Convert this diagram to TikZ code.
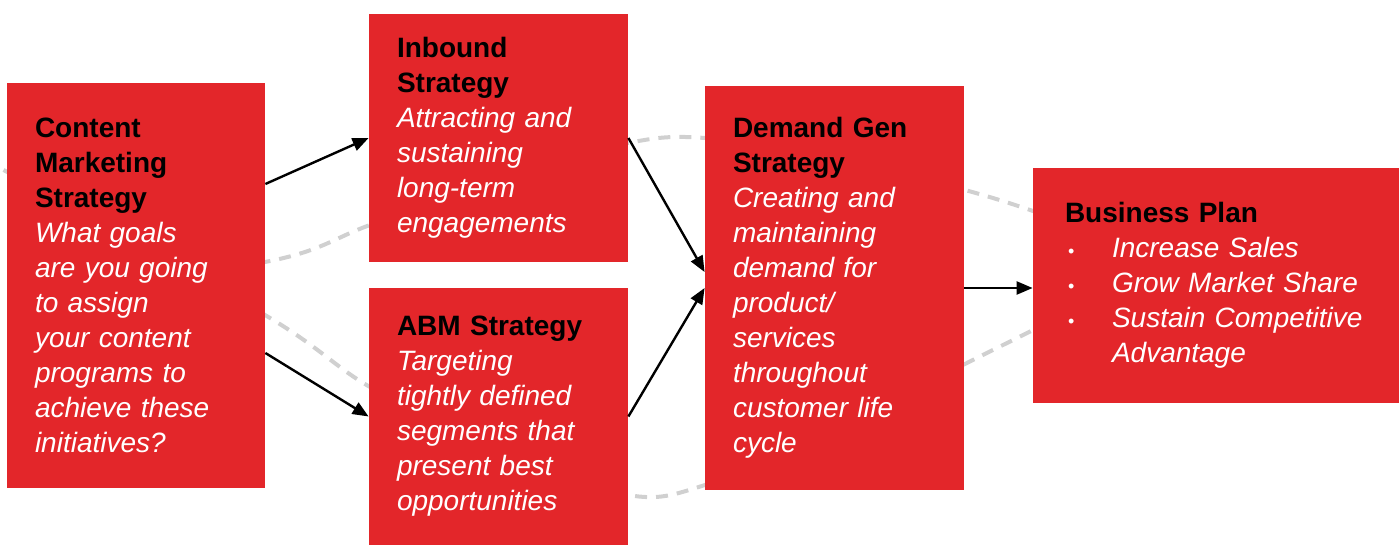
\documentclass[tikz,border=0pt]{standalone}
\usepackage{fontspec}
\setmainfont{Liberation Sans}
\usetikzlibrary{arrows.meta}
\definecolor{boxred}{HTML}{E3262A}
\definecolor{dashgrey}{HTML}{D0D0D0}
\newcommand{\hd}[1]{{\upshape\bfseries\color{black}#1}}
\newcommand{\bpitem}[1]{\hspace*{1.5pt}\makebox[22pt][l]{\upshape\fontsize{9}{9}\selectfont\textbullet}#1}

\begin{document}
\begin{tikzpicture}[x=0.5pt,y=-0.5pt,
    box/.style={fill=boxred,align=left,inner xsep=14pt,inner ysep=0pt,text=white,font=\fontsize{14}{17.5}\selectfont\itshape},
    arr/.style={line width=1.2pt,-{Triangle[length=8pt,width=6.5pt]}},
    faint/.style={dashgrey,line width=2pt,dash pattern=on 6pt off 4.5pt}]
    \useasboundingbox (0,0) rectangle (1399,545);
    \draw[faint] plot[smooth,tension=0.55] coordinates {(-10,297) (0,295) (265,262) (370,225) (500,178) (628,143) (705,138) (840,158) (965,190) (1033,211) (1100,236)};
    \draw[faint] plot[smooth,tension=0.55] coordinates {(-10,162) (0,168) (265,315) (370,387) (500,450) (628,495) (705,485) (840,428) (965,364) (1033,330) (1100,295)};
    \node[box,text width=101pt,minimum height=202.5pt] (cms) at (136,285.5)
        {\hd{Content}\\\hd{Marketing}\\\hd{Strategy}\\What goals\\are you going\\to assign\\your content\\programs to\\achieve these\\initiatives?};
    \node[box,text width=101.5pt,minimum height=124pt] (inbound) at (498.5,138)
        {\hd{Inbound}\\\hd{Strategy}\\Attracting and\\sustaining\\long-term\\engagements};
    \node[box,text width=101.5pt,minimum height=128.5pt] (abm) at (498.5,416.5)
        {\hd{ABM Strategy}\\Targeting\\tightly defined\\segments that\\present best\\opportunities};
    \node[box,text width=101.5pt,minimum height=202pt] (demand) at (834.5,288)
        {\hd{Demand Gen}\\\hd{Strategy}\\Creating and\\maintaining\\demand for\\product/\\services\\throughout\\customer life\\cycle};
    \node[box,text width=151pt,inner xsep=16pt,minimum height=117.5pt] (plan) at (1216,285.5)
        {\hd{Business Plan}\\\bpitem{Increase Sales}\\\bpitem{Grow Market Share}\\\bpitem{Sustain Competitive}\\\hspace*{23.5pt}Advantage};
    \draw[arr] (cms.east |- 0,184) -- (inbound.west);
    \draw[arr] (cms.east |- 0,353) -- (abm.west);
    \draw[arr] (inbound.east) -- (demand.west |- 0,272);
    \draw[arr] (abm.east) -- (demand.west);
    \draw[arr] (demand.east) -- (demand.east -| plan.west);
\end{tikzpicture}
\end{document}
